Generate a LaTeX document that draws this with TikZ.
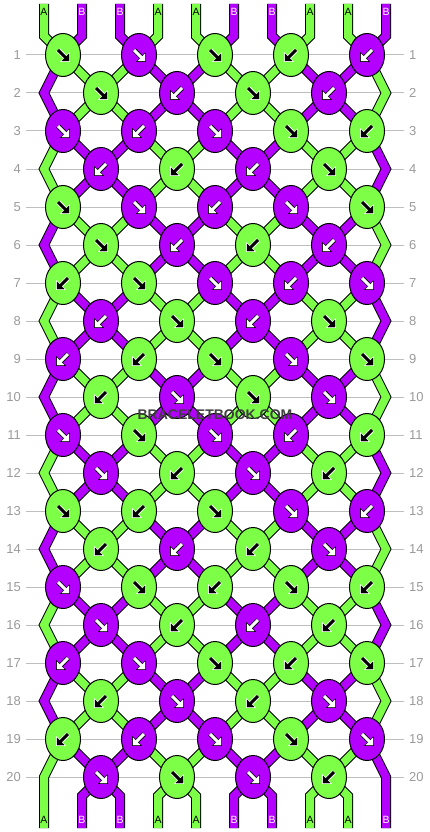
\documentclass[tikz,border=0pt]{standalone}
\usepackage{fontspec}
\setmainfont{Liberation Sans}
\usetikzlibrary{shapes.geometric}

\definecolor{strA}{HTML}{7DFF47}
\definecolor{strB}{HTML}{B300FF}
\definecolor{guide}{HTML}{BEBEBE}
\definecolor{numgray}{HTML}{9A9A9A}
\definecolor{wmgray}{HTML}{3F3F3F}

\tikzset{
  knot/.style={ellipse, draw, line width=1pt, minimum width=35pt, minimum height=43pt, inner sep=0pt},
  strand/.style={line width=1pt, double distance=8pt},
  guideline/.style={draw=guide, line width=1pt},
  rownum/.style={text=numgray, inner sep=0pt, font=\fontsize{13}{13}\selectfont},
  endlab/.style={inner sep=0pt, font=\fontsize{10.5}{10.5}\selectfont},
  endlab A/.style={endlab, text=black},
  endlab B/.style={endlab, text=white},
  wmark/.style={inner sep=0pt, font=\bfseries\fontsize{14}{14}\selectfont},
  turn r/.style={},
  turn l/.style={xscale=-1},
  rim A/.style={draw=white, fill=white},
  rim B/.style={draw=black, fill=black},
  ink A/.style={draw=black, fill=black},
  ink B/.style={draw=white, fill=white},
}

% arrow in a knot: centre, direction (r/l), strand (A/B)
\newcommand\knotarrow[3]{%
  \begin{scope}[shift={(#1)}, turn #2]
    \draw[rim #3, line width=4.6pt] (-5,-5) -- (3,3);
    \filldraw[rim #3, line width=1.6pt] (6,6) -- (6,-1) -- (-1,6) -- cycle;
    \draw[ink #3, line width=3pt] (-5,-5) -- (3,3);
    \fill[ink #3] (6,6) -- (6,-1) -- (-1,6) -- cycle;
  \end{scope}}

\begin{document}
\begin{tikzpicture}[x=1pt, y=-1pt]
  \useasboundingbox (0,0) rectangle (430,832);

  % row numbers and guide lines
  \foreach \r in {1,...,20}{
    \node[rownum, anchor=east] (numl-\r) at (21,17+38*\r) {\r};
    \node[rownum, anchor=west] (numr-\r) at (409,17+38*\r) {\r};
    \draw[guideline] ([xshift=5pt]numl-\r.east) -- ([xshift=-5pt]numr-\r.west);
  }

  % knot centres
  \foreach \r in {1,...,20}{
    \pgfmathtruncatemacro\n{isodd(\r) ? 4 : 3}
    \pgfmathtruncatemacro\xo{isodd(\r) ? 63 : 101}
    \foreach \i in {0,...,\n}
      \coordinate (k-\r-\i) at (\xo+76*\i,17+38*\r);
  }
  \foreach \r in {2,4,...,20}{
    \coordinate (e-\r-0) at (44,17+38*\r);
    \coordinate (e-\r-9) at (386,17+38*\r);
  }
  % string ends
  \foreach \p in {0,...,9}{
    \pgfmathtruncatemacro\xe{63+76*floor(\p/2)+(iseven(\p) ? -19 : 19)}
    \coordinate (t-\p) at (\xe,4);
    \coordinate (tb-\p) at (\xe,36);
    \coordinate (bb-\p) at (\xe,796);
    \coordinate (b-\p) at (\xe,828);
  }

  % strands in and out
  \foreach \p/\c in {0/A,1/B,2/B,3/A,4/A,5/B,6/B,7/A,8/A,9/B}{
    \pgfmathtruncatemacro\k{floor(\p/2)}
    \draw[strand, double=str\c] (t-\p) -- (tb-\p) -- (k-1-\k);
  }
  \foreach \p/\c in {1/B,2/B,3/A,4/A,5/B,6/B,7/A,8/A}{
    \pgfmathtruncatemacro\k{floor((\p-1)/2)}
    \draw[strand, double=str\c] (k-20-\k) -- (bb-\p) -- (b-\p);
  }

  % side strands
  \foreach \r/\cl/\cr in {1/B/A,3/A/B,5/B/A,7/A/B,9/B/A,11/A/B,13/B/A,15/A/B,17/B/A}{
    \pgfmathtruncatemacro\ra{\r+1}
    \pgfmathtruncatemacro\rb{\r+2}
    \draw[strand, double=str\cl] (k-\r-0) -- (e-\ra-0) -- (k-\rb-0);
    \draw[strand, double=str\cr] (k-\r-4) -- (e-\ra-9) -- (k-\rb-4);
  }
  \draw[strand, double=strA] (k-19-0) -- (e-20-0) -- (b-0);
  \draw[strand, double=strB] (k-19-4) -- (e-20-9) -- (b-9);

  % strands round the even rows
  \foreach \r in {2,4,...,20}{
    \pgfmathtruncatemacro\ra{\r-1}
    \pgfmathtruncatemacro\rb{\r+1}
    \foreach \j in {0,...,3}{
      \pgfmathtruncatemacro\jb{\j+1}
      \pgfmathtruncatemacro\g{mod(\r+2*\j,4)==2}
      \ifnum\g=1 \def\c{strA}\else\def\c{strB}\fi
      \draw[strand, double=\c] (k-\ra-\j) -- (k-\r-\j) -- (k-\ra-\jb);
      \ifnum\r<20
        \draw[strand, double=\c] (k-\rb-\j) -- (k-\r-\j) -- (k-\rb-\jb);
      \fi
    }
  }

  % knots
  \foreach \r/\row in {
      1/{A/r,B/r,A/r,A/l,B/l},
      2/{A/r,B/l,A/r,B/l},
      3/{B/r,B/l,B/r,A/r,A/l},
      4/{B/l,A/l,B/l,A/r},
      5/{A/r,B/r,B/l,B/r,A/r},
      6/{A/r,B/l,A/l,B/l},
      7/{A/l,A/r,B/r,B/l,B/r},
      8/{B/l,A/r,B/l,A/r},
      9/{B/l,A/l,A/r,B/r,A/r},
      10/{A/l,B/r,A/r,B/r},
      11/{B/r,A/r,B/r,B/l,A/l},
      12/{B/r,A/l,B/r,A/l},
      13/{A/r,A/l,A/r,B/r,B/l},
      14/{A/l,B/l,A/l,B/r},
      15/{B/r,A/r,A/l,A/r,A/l},
      16/{B/r,A/l,B/l,A/l},
      17/{B/l,B/r,A/r,A/l,A/r},
      18/{A/l,B/r,A/l,B/r},
      19/{A/l,B/l,B/r,A/r,B/r},
      20/{B/r,A/r,B/r,A/l}}{
    \foreach \c/\d [count=\i from 0] in \row {
      \node[knot, fill=str\c] (n-\r-\i) at (k-\r-\i) {};
      \knotarrow{k-\r-\i}{\d}{\c}
    }
  }

  % end labels
  \foreach \p/\c in {0/A,1/B,2/B,3/A,4/A,5/B,6/B,7/A,8/A,9/B}{
    \node[endlab \c] (lt-\p) at ([yshift=-8pt]t-\p) {\c};
    \node[endlab \c] (lb-\p) at ([yshift=8pt]b-\p) {\c};
  }

  % watermark
  \node[wmark, text=wmgray] (wm) at (215,415) {BRACELETBOOK.COM};
\end{tikzpicture}
\end{document}
